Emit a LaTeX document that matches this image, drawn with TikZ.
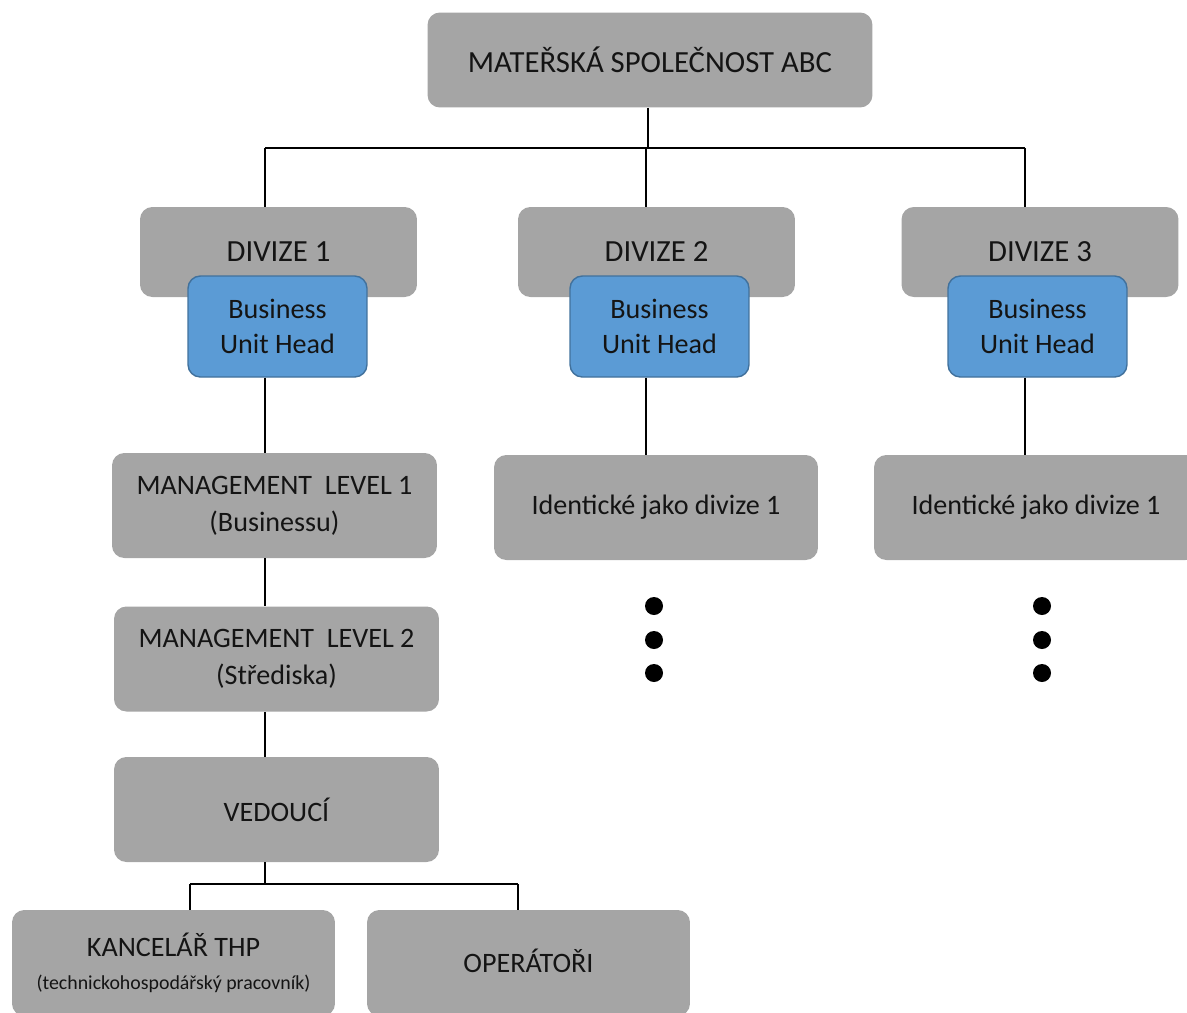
\documentclass[tikz,border=0pt]{standalone}
\usepackage{fontspec}
\setmainfont{Carlito}
\usepackage{xcolor}
\definecolor{org-gray}{HTML}{A5A5A5}
\definecolor{org-blue}{HTML}{5B9BD5}
\definecolor{org-blueline}{HTML}{41719C}
\definecolor{org-text}{HTML}{141414}
\usepackage{tikz}

\tikzset{
  graybox/.style={fill=org-gray, rounded corners=7pt, text=org-text, align=center,
    inner sep=0pt, font=\fontsize{16}{21}\selectfont},
  bluebox/.style={fill=org-blue, draw=org-blueline, line width=0.8pt, rounded corners=7pt,
    text=org-text, align=center, inner sep=0pt, minimum width=3.58cm, minimum height=2.02cm,
    font=\fontsize{16}{19.5}\selectfont},
  divbox/.style={graybox, minimum width=5.54cm, minimum height=1.8cm, font=\fontsize{17.5}{21}\selectfont},
  levelbox/.style={graybox, minimum width=6.5cm, minimum height=2.1cm},
  link/.style={draw=black, line width=1pt},
}

\begin{document}
\begin{tikzpicture}[x=0.02cm, y=-0.02cm]

    \useasboundingbox (0,0) rectangle (1187,1012);

    % Parent company
    \node[graybox, minimum width=8.9cm, minimum height=1.9cm, font=\fontsize{17.5}{21}\selectfont]
      (mother) at (650,60) {MATEŘSKÁ SPOLEČNOST ABC};

    % Divisions
    \node[divbox] (div1) at (278.5,252) {DIVIZE 1};
    \node[divbox] (div2) at (656.5,252) {DIVIZE 2};
    \node[divbox] (div3) at (1040,252) {DIVIZE 3};

    % Business unit heads
    \node[bluebox] (head1) at (277.5,326.5) {Business\\Unit Head};
    \node[bluebox] (head2) at (659.5,326.5) {Business\\Unit Head};
    \node[bluebox] (head3) at (1037.5,326.5) {Business\\Unit Head};

    % Levels of division 1
    \node[levelbox] (level1) at (274.5,505.5) {MANAGEMENT~ LEVEL 1\\(Businessu)};
    \node[levelbox] (level2) at (276.5,659) {MANAGEMENT~ LEVEL 2\\(Střediska)};
    \node[levelbox] (chief) at (276.5,809.5) {VEDOUCÍ};

    % Divisions 2 and 3
    \node[levelbox, minimum width=6.48cm] (same2) at (656,507.5) {Identické jako divize 1};
    \node[levelbox, minimum width=6.48cm] (same3) at (1036,507.5) {Identické jako divize 1};

    % Staff
    \node[levelbox, minimum width=6.46cm, minimum height=2.12cm] (office) at (173.5,963)
      {KANCELÁŘ THP\\[-2pt]{\fontsize{11.3}{12}\selectfont (technickohospodářský pracovník)}};
    \node[levelbox, minimum width=6.46cm, minimum height=2.12cm] (operators) at (528.5,963)
      {\raisebox{3pt}{OPERÁTOŘI}};

    % Connectors from the parent company
    \coordinate (bus) at (648,148);
    \coordinate (bus1) at (265,148);
    \coordinate (bus2) at (646,148);
    \coordinate (bus3) at (1025,148);
    \draw[link] (mother.south -| bus) -- (bus);
    \draw[link] (bus1) -- (bus3);
    \draw[link] (bus1) -- (bus1 |- div1.north);
    \draw[link] (bus2) -- (bus2 |- div2.north);
    \draw[link] (bus3) -- (bus3 |- div3.north);

    % Connectors down the divisions
    \coordinate (col1) at (265,0);
    \coordinate (col2) at (646,0);
    \coordinate (col3) at (1025,0);
    \draw[link] (head1.south -| col1) -- (level1.north -| col1);
    \draw[link] (level1.south -| col1) -- (level2.north -| col1);
    \draw[link] (level2.south -| col1) -- (chief.north -| col1);
    \draw[link] (head2.south -| col2) -- (same2.north -| col2);
    \draw[link] (head3.south -| col3) -- (same3.north -| col3);

    % Connectors to the staff
    \coordinate (staffbus) at (265,884);
    \coordinate (staff1) at (190,884);
    \coordinate (staff2) at (518,884);
    \draw[link] (chief.south -| staffbus) -- (staffbus);
    \draw[link] (staff1) -- (staff2);
    \draw[link] (staff1) -- (staff1 |- office.north);
    \draw[link] (staff2) -- (staff2 |- operators.north);

    % Continuation dots
    \fill (654,606) circle (9) (654,640) circle (9) (654,673) circle (9);
    \fill (1042,606) circle (9) (1042,640) circle (9) (1042,673) circle (9);

\end{tikzpicture}
\end{document}
